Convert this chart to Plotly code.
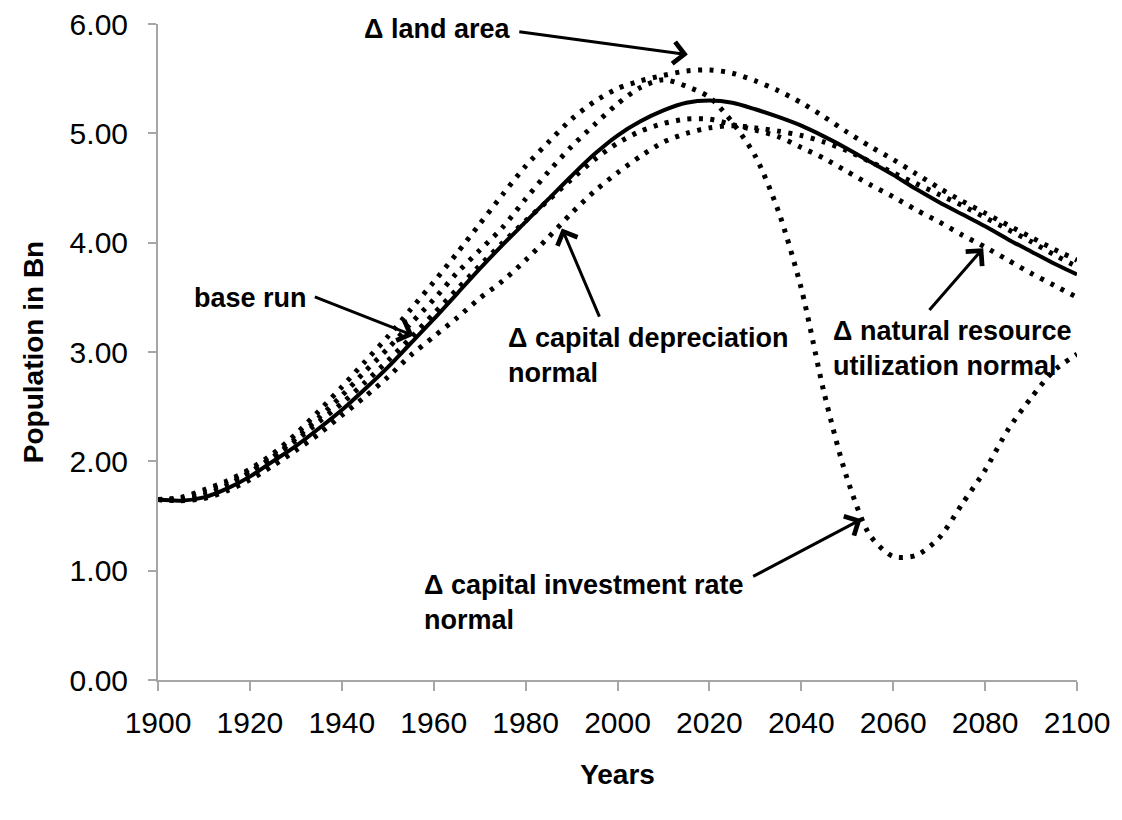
import plotly.graph_objects as go

years = [1900, 1905, 1910, 1915, 1920, 1925, 1930, 1935, 1940, 1945,
         1950, 1955, 1960, 1965, 1970, 1975, 1980, 1985, 1990, 1995,
         2000, 2005, 2010, 2015, 2020, 2025, 2030, 2035, 2040, 2045,
         2050, 2055, 2060, 2065, 2070, 2075, 2080, 2085, 2090, 2095, 2100]

base_run = [1.65, 1.64, 1.67, 1.75, 1.86, 2.00, 2.14, 2.30, 2.47, 2.66,
            2.86, 3.08, 3.30, 3.53, 3.76, 3.98, 4.19, 4.40, 4.61, 4.81,
            4.98, 5.11, 5.21, 5.28, 5.30, 5.28, 5.22, 5.15, 5.07, 4.97,
            4.86, 4.74, 4.62, 4.49, 4.37, 4.26, 4.15, 4.03, 3.92, 3.81, 3.71]

land_area = [1.65, 1.67, 1.74, 1.82, 1.93, 2.07, 2.25, 2.46, 2.68, 2.91,
             3.14, 3.39, 3.64, 3.90, 4.17, 4.44, 4.70, 4.92, 5.13, 5.29,
             5.41, 5.48, 5.53, 5.57, 5.58, 5.55, 5.48, 5.39, 5.28, 5.15,
             5.01, 4.88, 4.76, 4.63, 4.50, 4.38, 4.27, 4.16, 4.05, 3.94, 3.84]

capital_investment = [1.65, 1.66, 1.72, 1.80, 1.91, 2.04, 2.21, 2.40, 2.60, 2.82,
                      3.03, 3.26, 3.48, 3.72, 3.93, 4.14, 4.40, 4.65, 4.88, 5.08,
                      5.27, 5.42, 5.49, 5.43, 5.33, 5.10, 4.79, 4.29, 3.58, 2.62,
                      1.84, 1.32, 1.13, 1.14, 1.30, 1.61, 1.92, 2.29, 2.58, 2.83, 2.98]

natural_resource = [1.65, 1.65, 1.69, 1.78, 1.90, 2.04, 2.19, 2.36, 2.53, 2.72,
                    2.92, 3.13, 3.35, 3.57, 3.79, 4.00, 4.20, 4.39, 4.58, 4.76,
                    4.91, 5.02, 5.09, 5.13, 5.13, 5.08, 5.03, 4.97, 4.87, 4.77,
                    4.65, 4.53, 4.42, 4.30, 4.19, 4.07, 3.96, 3.84, 3.72, 3.61, 3.50]

capital_depreciation = [1.65, 1.64, 1.66, 1.73, 1.83, 1.96, 2.10, 2.25, 2.42, 2.59,
                        2.77, 2.97, 3.14, 3.31, 3.49, 3.65, 3.84, 4.05, 4.27, 4.47,
                        4.64, 4.79, 4.92, 5.00, 5.05, 5.07, 5.05, 5.02, 4.98, 4.92,
                        4.84, 4.74, 4.64, 4.54, 4.44, 4.34, 4.23, 4.12, 4.01, 3.89, 3.78]

x_ticks = [1900, 1920, 1940, 1960, 1980, 2000, 2020, 2040, 2060, 2080, 2100]
y_ticks = [0, 1, 2, 3, 4, 5, 6]

FONT = "Liberation Sans, Arial, sans-serif"
DOT = "4px,7.5px"

fig = go.Figure()

dotted = [
    ("Δ land area", land_area),
    ("Δ capital investment rate normal", capital_investment),
    ("Δ natural resource utilization normal", natural_resource),
    ("Δ capital depreciation normal", capital_depreciation),
]
for name, vals in dotted:
    fig.add_trace(go.Scatter(x=years, y=vals, name=name, mode="lines",
                             line=dict(color="black", width=5, dash=DOT,
                                       shape="spline", smoothing=0.8),
                             showlegend=False))

fig.add_trace(go.Scatter(x=years, y=base_run, name="base run", mode="lines",
                         line=dict(color="black", width=4, shape="spline", smoothing=0.8),
                         showlegend=False))

axis_color = "#A6A6A6"
fig.update_layout(
    width=1122, height=820,
    margin=dict(l=150, r=53, t=16, b=148),
    paper_bgcolor="white", plot_bgcolor="white",
    font=dict(family=FONT, color="black"),
    xaxis=dict(range=[1900, 2100], tickvals=x_ticks, ticktext=[str(v) for v in x_ticks],
               automargin=False, ticklabeloverflow="allow",
               showgrid=False, zeroline=False, showline=True, linecolor=axis_color, linewidth=2,
               ticks="outside", ticklen=9, tickcolor=axis_color, tickwidth=2,
               ticklabelstandoff=6,
               tickfont=dict(size=30, family=FONT),
               title=dict(text="Years", font=dict(size=28, family=FONT, weight="bold"), standoff=26)),
    yaxis=dict(range=[0, 6], tickvals=y_ticks, tickformat=".2f",
               automargin=False, ticklabeloverflow="allow",
               showgrid=False, zeroline=False, showline=True, linecolor=axis_color, linewidth=2,
               ticks="outside", ticklen=8, tickcolor=axis_color, tickwidth=2,
               ticklabelstandoff=14,
               tickfont=dict(size=30, family=FONT),
               title=dict(text="Population in Bn", font=dict(size=28, family=FONT, weight="bold"), standoff=18)),
)

label_font = dict(size=27, family=FONT, color="black", weight="bold")
labels = [
    ("Δ land area", 1944.6, 5.95),
    ("base run", 1907.6, 3.49),
    ("Δ capital depreciation<br>normal", 1976.0, 2.97),
    ("Δ natural resource<br>utilization normal", 2046.7, 3.03),
    ("Δ capital investment rate<br>normal", 1957.7, 0.71),
]
for txt, lx, ly in labels:
    fig.add_annotation(x=lx, y=ly, xref="x", yref="y", text=txt, showarrow=False,
                       xanchor="left", yanchor="middle", align="left", font=label_font,
                       borderpad=0)

arrows = [
    (2015.3, 5.72, 1978.3, 5.93),
    (1955.6, 3.15, 1933.8, 3.51),
    (1987.9, 4.13, 1996.2, 3.31),
    (2079.6, 3.95, 2067.6, 3.37),
    (2053.1, 1.47, 2029.2, 0.94),
]
for tx, ty, sx, sy in arrows:
    fig.add_annotation(x=tx, y=ty, ax=sx, ay=sy, xref="x", yref="y", axref="x", ayref="y",
                       text="", showarrow=True, arrowhead=4, arrowsize=1.4, arrowwidth=3,
                       arrowcolor="black", standoff=0, startstandoff=0)

fig.write_html("out.html")
